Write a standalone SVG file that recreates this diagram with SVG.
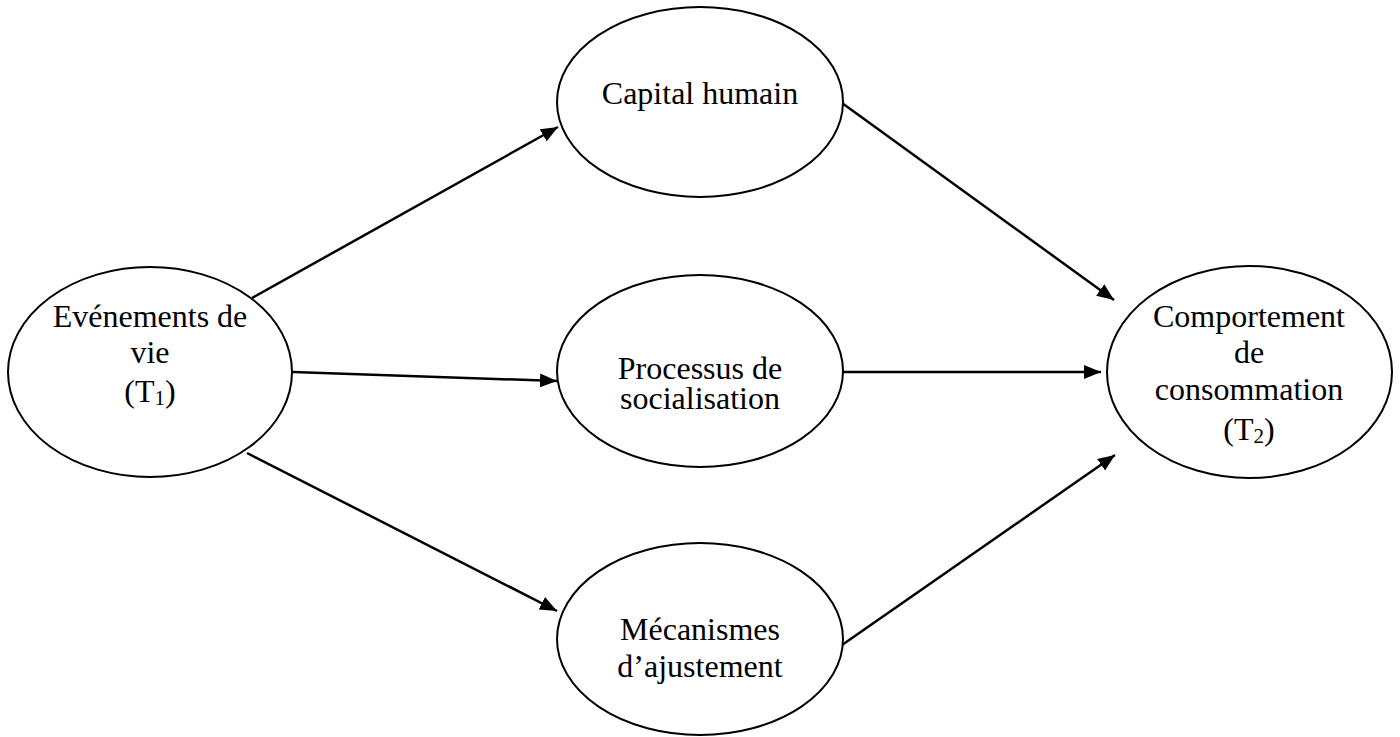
<svg xmlns="http://www.w3.org/2000/svg" width="1400" height="737" viewBox="0 0 1400 737">
<style>
.node ellipse{fill:#fff;stroke:#000;stroke-width:2}
.node text{font-family:"Liberation Serif","Times New Roman",serif;font-size:32px;fill:#000;text-anchor:middle}
.sub{font-size:21px}
#connectors line{stroke:#000;stroke-width:2.5}
</style>
<defs>
<marker id="arr" markerUnits="userSpaceOnUse" markerWidth="18" markerHeight="15" refX="17" refY="7" orient="auto">
<path d="M0,0 L17,7 L0,14 z" fill="#000"/>
</marker>
</defs>
<rect width="1400" height="737" fill="#fff"/>
<g id="connectors">
<line x1="252" y1="298" x2="558" y2="127" marker-end="url(#arr)"/>
<line x1="293" y1="372" x2="557" y2="381" marker-end="url(#arr)"/>
<line x1="247" y1="453" x2="557" y2="611" marker-end="url(#arr)"/>
<line x1="842" y1="103" x2="1114" y2="300" marker-end="url(#arr)"/>
<line x1="842" y1="372" x2="1101" y2="372" marker-end="url(#arr)"/>
<line x1="842" y1="645" x2="1115" y2="455" marker-end="url(#arr)"/>
</g>
<g id="evenements" class="node">
<ellipse cx="150" cy="372" rx="142" ry="105"/>
<text x="150" y="327">Evénements de</text>
<text x="150" y="363">vie</text>
<text x="150" y="402">(T<tspan class="sub" dy="3">1</tspan><tspan dy="-3">)</tspan></text>
</g>
<g id="capital" class="node">
<ellipse cx="700" cy="102" rx="143" ry="95"/>
<text x="700" y="104">Capital humain</text>
</g>
<g id="processus" class="node">
<ellipse cx="700" cy="371" rx="143" ry="96"/>
<text x="700" y="379">Processus de</text>
<text x="700" y="409">socialisation</text>
</g>
<g id="mecanismes" class="node">
<ellipse cx="700" cy="639" rx="143" ry="96"/>
<text x="700" y="640">Mécanismes</text>
<text x="700" y="677">d’ajustement</text>
</g>
<g id="comportement" class="node">
<ellipse cx="1249.5" cy="372" rx="142.5" ry="106"/>
<text x="1249" y="327">Comportement</text>
<text x="1249" y="363">de</text>
<text x="1249" y="400">consommation</text>
<text x="1249" y="440">(T<tspan class="sub" dy="3">2</tspan><tspan dy="-3">)</tspan></text>
</g>
</svg>
